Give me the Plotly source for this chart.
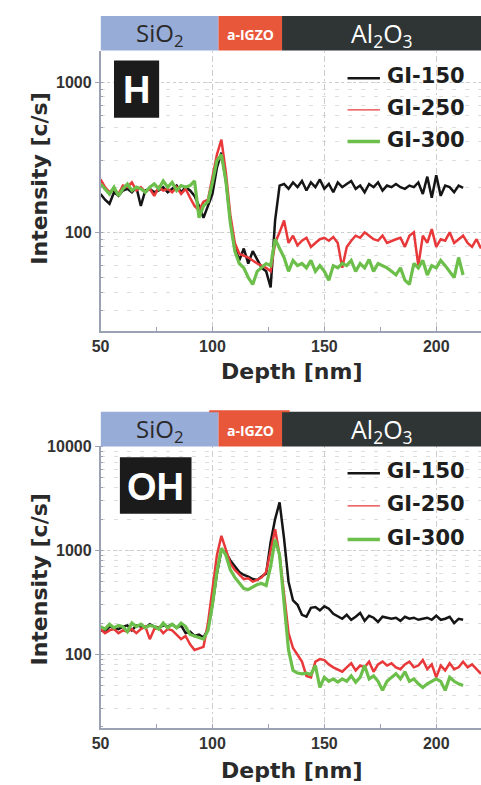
import plotly.graph_objects as go

W, H = 481, 785

# ---------------- data ----------------
DEPTH = [50, 52, 54, 56, 58, 60, 62, 64, 66, 68,
         70, 72, 74, 76, 78, 80, 82, 84, 86, 88,
         90, 92, 94, 96, 98, 100, 102, 104, 106, 108,
         110, 112, 114, 116, 118, 120, 122, 124, 126, 128,
         130, 132, 134, 136, 138, 140, 142, 144, 146, 148,
         150, 152, 154, 156, 158, 160, 162, 164, 166, 168,
         170, 172, 174, 176, 178, 180, 182, 184, 186, 188,
         190, 192, 194, 196, 198, 200, 202, 204, 206, 208,
         210, 212]
DEPTH_EXT = DEPTH + [214, 216, 218, 220]

SERIES = ["GI-150", "GI-250", "GI-300"]

H_GI150 = [180, 165, 155, 185, 175, 190, 195, 185, 200, 150,
           190, 195, 185, 190, 200, 185, 195, 205, 185, 200,
           190, 175, 150, 125, 150, 180, 270, 340, 220, 120,
           80, 65, 78, 62, 75, 66, 58, 55, 43, 120,
           205, 210, 195, 215, 200, 220, 190, 215, 200, 225,
           195, 210, 185, 215, 200, 210, 220, 195, 205, 185,
           210, 200, 215, 190, 205, 200, 210, 200, 195, 205,
           200, 215, 180, 235, 170, 240, 175, 205, 200, 185,
           205, 198]
H_GI250 = [225, 200, 185, 195, 180, 205, 200, 215, 190, 200,
           185, 195, 175, 200, 190, 195, 185, 200, 180, 195,
           170, 150, 140, 160, 165, 230, 330, 415, 250, 130,
           85, 72, 70, 68, 65, 62, 60, 58, 55, 85,
           100, 120, 85, 95, 82, 88, 92, 80, 85, 90,
           92, 88, 93, 85, 58, 80, 88, 95, 92, 100,
           95, 90, 88, 95, 85, 88, 90, 92, 80, 95,
           100, 60, 95, 85, 105, 80, 90, 88, 100, 85,
           90, 95, 85, 80, 90, 78]
H_GI300 = [210, 195, 180, 200, 175, 195, 210, 190, 200, 195,
           185, 200, 210, 195, 220, 200, 215, 190, 205, 200,
           205, 220, 125, 150, 160, 215, 300, 330, 220, 115,
           75, 62, 58, 50, 45, 55, 58, 62, 60, 90,
           78, 68, 55, 65, 60, 62, 58, 65, 55, 60,
           55, 48, 60, 58, 62, 60, 65, 55, 62, 58,
           66, 55, 62, 60, 58, 55, 52, 58, 48, 45,
           62, 58, 65, 52, 60, 58, 65, 60, 55, 50,
           68, 52]

OH_GI150 = [170, 165, 185, 180, 175, 185, 190, 170, 190, 185,
            180, 195, 185, 180, 190, 185, 195, 180, 190, 160,
            165, 150, 155, 145, 175, 300, 600, 1000, 950, 800,
            700, 620, 580, 560, 530, 520, 560, 600, 1200, 2000,
            2900, 1300, 500, 330, 300, 240, 230, 280, 285, 265,
            290, 275, 245, 230, 220, 240, 215, 230, 250, 210,
            235, 225, 205, 230, 225, 220, 225, 210, 230, 220,
            225, 215, 220, 225, 215, 235, 215, 220, 230, 200,
            220, 215]
OH_GI250 = [175, 160, 170, 175, 160, 170, 165, 175, 160, 175,
            185, 140, 175, 180, 160, 175, 170, 155, 140, 150,
            125, 110, 113, 118, 200, 450, 900, 1380, 1000, 750,
            650, 580, 530, 540, 500, 520, 550, 620, 1000, 1600,
            900, 400, 160, 115, 100, 85, 62, 60, 85, 90,
            88, 80, 75, 72, 68, 75, 82, 70, 78, 75,
            85, 68, 80, 85, 78, 82, 75, 72, 80, 85,
            75, 78, 88, 72, 80, 60, 78, 70, 82, 72,
            75, 85, 75, 80, 72, 65]
OH_GI300 = [185, 175, 195, 180, 190, 185, 165, 200, 185, 195,
            180, 190, 185, 175, 200, 180, 195, 180, 200, 185,
            155, 150, 145, 140, 170, 300, 620, 1050, 900, 650,
            550, 480, 430, 420, 440, 470, 480, 460, 700, 1270,
            900, 300, 110, 70, 66, 65, 66, 64, 78, 48,
            60, 55, 58, 54, 58, 55, 62, 54, 60, 78,
            58, 62, 55, 45, 55, 60, 65, 58, 68, 55,
            58, 52, 48, 52, 55, 58, 55, 45, 60, 55,
            52, 50]

Y_TICKS_H = [100, 1000]
Y_TICKS_OH = [100, 1000, 10000]
X_TICKS = [50, 100, 150, 200]
LAYERS = ["SiO<sub>2</sub>", "a-IGZO", "Al<sub>2</sub>O<sub>3</sub>"]
LAYER_EDGES = [50, 102.7, 131.1, 220]

# ---------------- style ----------------
COLORS = ["#151515", "#e8383a", "#6cbf4a"]
WIDTHS = [2.5, 2.5, 3.2]
LEG_WIDTHS = [2.5, 1.3, 3.5]
LAYER_COLORS = ["#98acd8", "#e9573b", "#2f3535"]
LAYER_TEXT = ["#2a2a2a", "#ffffff", "#ffffff"]
LAYER_SIZE = [24, 14, 25]
AX_LINE = "#9aa2b4"
GRID = "#cdcdcd"
MINOR_GRID = "#dedede"
TICK_FONT = dict(family="Liberation Sans", size=16, color="#333333", weight="bold")
TITLE_FONT = dict(family="DejaVu Sans", size=22, color="#2a2a2a", weight="bold")


def px(x):
    return x / W


def py(y):
    return 1 - y / H


fig = go.Figure()

panels = [
    ("x", "y", [H_GI150, H_GI250, H_GI300]),
    ("x2", "y2", [OH_GI150, OH_GI250, OH_GI300]),
]
for xa, ya, vals in panels:
    for i, name in enumerate(SERIES):
        xs = DEPTH_EXT if len(vals[i]) == len(DEPTH_EXT) else DEPTH
        fig.add_trace(go.Scatter(
            x=xs, y=vals[i], mode="lines", name=name, showlegend=False,
            line=dict(color=COLORS[i], width=WIDTHS[i]),
            xaxis=xa, yaxis=ya))

x_left = px(93.3)
top_dom = [py(326), py(43)]
bot_dom = [py(727), py(443)]


def xaxis_cfg(anchor):
    return dict(domain=[x_left, 1], range=[50, 220], anchor=anchor,
                tickvals=X_TICKS, ticks="inside", ticklen=4, tickcolor=AX_LINE,
                showline=True, linecolor=AX_LINE, linewidth=1.5,
                showgrid=True, gridcolor=GRID, griddash="2px,3px,6px,3px", gridwidth=1,
                zeroline=False, tickfont=TICK_FONT,
                minor=dict(dtick=25, tick0=50, ticks="inside", ticklen=4,
                           tickcolor=AX_LINE, showgrid=False))


def yaxis_cfg(anchor, dom, rng, tv):
    return dict(domain=dom, type="log", range=rng, anchor=anchor,
                tickvals=tv, ticktext=[str(v) for v in tv],
                ticks="outside", ticklen=4, tickcolor=AX_LINE,
                showline=True, linecolor=AX_LINE, linewidth=1.5,
                showgrid=True, gridcolor=GRID, griddash="3px,3px", gridwidth=1,
                zeroline=False, tickfont=TICK_FONT,
                minor=dict(dtick="D1", ticks="inside", ticklen=3, tickcolor=AX_LINE,
                           showgrid=True, gridcolor=MINOR_GRID, griddash="4px,9px"))


fig.update_layout(
    width=W, height=H, margin=dict(l=0, r=0, t=0, b=0),
    paper_bgcolor="white", plot_bgcolor="white", showlegend=False,
    xaxis=xaxis_cfg("y"),
    yaxis=yaxis_cfg("x", top_dom, [1.345, 3.211], Y_TICKS_H),
    xaxis2=xaxis_cfg("y2"),
    yaxis2=yaxis_cfg("x2", bot_dom, [1.295, 4.0], Y_TICKS_OH),
)

shapes = []
annotations = []

# layer bars
for xref, (ytop, ybot) in [("x", (8, 43)), ("x2", (408, 443))]:
    for i, lab in enumerate(LAYERS):
        shapes.append(dict(type="rect", xref=xref, yref="paper",
                           x0=LAYER_EDGES[i], x1=LAYER_EDGES[i + 1],
                           y0=py(ybot), y1=py(ytop),
                           fillcolor=LAYER_COLORS[i], line=dict(width=0), layer="above"))
        annotations.append(dict(text=lab, xref=xref, yref="paper",
                                x=(LAYER_EDGES[i] + LAYER_EDGES[i + 1]) / 2,
                                y=py((ytop + ybot) / 2 + 1), showarrow=False,
                                xanchor="center", yanchor="middle",
                                font=dict(family="Open Sans", size=LAYER_SIZE[i],
                                          color=LAYER_TEXT[i],
                                          weight="bold" if i == 1 else "normal")))
# thin orange edge above a-IGZO in lower bar
shapes.append(dict(type="rect", xref="paper", yref="paper",
                   x0=px(204), x1=px(286), y0=py(408.5), y1=py(406.5),
                   fillcolor="#e9573b", line=dict(width=0), layer="above"))

# panel labels
for lab, (x0, x1, y0, y1, fs) in [("H", (107, 153, 53, 111, 38)),
                                  ("OH", (113, 186, 454, 511, 38))]:
    shapes.append(dict(type="rect", xref="paper", yref="paper",
                       x0=px(x0), x1=px(x1), y0=py(y1), y1=py(y0),
                       fillcolor="#1b1b1b", line=dict(width=0), layer="above"))
    annotations.append(dict(text=lab, xref="paper", yref="paper",
                            x=px((x0 + x1) / 2), y=py((y0 + y1) / 2 + 1),
                            showarrow=False, xanchor="center", yanchor="middle",
                            font=dict(family="Liberation Sans", size=fs,
                                      color="white", weight="bold")))

# legends (manual)
for rows in [[69, 101, 133], [468, 501, 535]]:
    for i, name in enumerate(SERIES):
        yc = rows[i]
        shapes.append(dict(type="line", xref="paper", yref="paper",
                           x0=px(345), x1=px(378), y0=py(yc + 2), y1=py(yc + 2),
                           line=dict(color=COLORS[i], width=LEG_WIDTHS[i]), layer="above"))
        annotations.append(dict(text=name, xref="paper", yref="paper",
                                x=px(383), y=py(yc), showarrow=False,
                                xanchor="left", yanchor="middle",
                                font=dict(family="DejaVu Sans", size=21,
                                          color="#1e1e1e", weight="bold")))

# axis titles
for yc in [367, 770]:
    annotations.append(dict(text="Depth [nm]", xref="paper", yref="paper",
                            x=px(288), y=py(yc), showarrow=False,
                            xanchor="center", yanchor="middle", font=TITLE_FONT))
for yc in [172, 577]:
    annotations.append(dict(text="Intensity [c/s]", xref="paper", yref="paper",
                            x=px(31), y=py(yc), showarrow=False, textangle=-90,
                            xanchor="center", yanchor="middle", font=TITLE_FONT))

fig.update_layout(shapes=shapes, annotations=annotations)
fig.write_html(
    "out.html",
    config={"displayModeBar": False},
    post_script="document.body.style.margin='0';document.body.style.overflow='hidden';",
)
